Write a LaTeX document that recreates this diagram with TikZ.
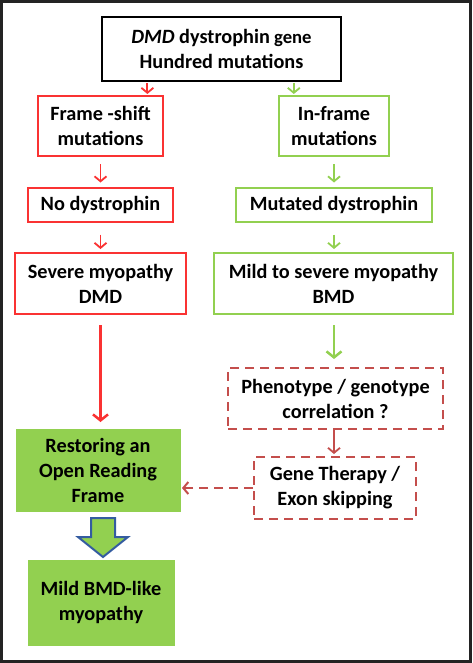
\documentclass[tikz,border=0pt]{standalone}
\usepackage{fontspec}
\setmainfont{Carlito}
\usetikzlibrary{calc, positioning, arrows.meta}
\def\px{0.75pt}
\definecolor{redline}{RGB}{250,50,50}
\definecolor{greenline}{RGB}{146,208,80}
\definecolor{dashred}{RGB}{196,78,76}
\definecolor{bluearrow}{RGB}{52,92,160}
\definecolor{frameline}{RGB}{35,35,35}
\tikzset{
box/.style 2 args={draw=#1, fill=#2, line width=2*\px, align=center, inner sep=0pt,
	font=\bfseries\fontsize{15.2}{18.75}\selectfont},
sized/.style 2 args={minimum width=#1*\px, minimum height=#2*\px},
dashbox/.style={box={dashred}{white}, dash pattern=on 9*\px off 6*\px},
thinarrow/.style={draw=#1, line width=1.8*\px, -{Straight Barb[length=5*\px, width=12*\px]}},
thickarrow/.style={draw=#1, line width=2.5*\px, -{Straight Barb[length=6*\px, width=15*\px]}},
}

\begin{document}
\begin{tikzpicture}[x=\px, y=-\px]
\useasboundingbox (0,0) rectangle (472,663);
\draw[frameline, line width=3*\px] (1.5,1.5) rectangle (470.5,661.5);

%Place the nodes
\node[box={black}{white}, sized={239}{64}] (gene) at (221.5,49)
	{\textit{DMD} dystrophin{\fontsize{14}{18}\selectfont\ gene}\\Hundred mutations};
\node[box={redline}{white}, sized={125}{60}] (shift) at (100.5,126) {Frame -shift\\mutations};
\node[box={greenline}{white}, sized={110}{60}] (inframe) at (334,126) {In-frame\\mutations};
\node[box={redline}{white}, sized={145}{34}] (nodys) at (100.5,204.5) {No dystrophin};
\node[box={greenline}{white}, sized={196}{34}] (mutdys) at (334,204.5) {Mutated dystrophin};
\node[box={redline}{white}, sized={171}{61}] (severe) at (100.5,283.5) {Severe myopathy\\DMD};
\node[box={greenline}{white}, sized={239}{61}] (mild) at (333.5,283.5) {Mild to severe myopathy\\BMD};
\node[dashbox, sized={215}{61}] (pheno) at (335.5,398.5) {Phenotype / genotype\\correlation ?};
\node[dashbox, sized={162}{62}] (therapy) at (335,488) {Gene Therapy /\\Exon skipping};
\node[box={greenline}{greenline}, line width=0pt, sized={164}{82}] (orf) at (98,470)
	{Restoring an\\Open Reading\\Frame};
\node[box={greenline}{greenline}, line width=0pt, sized={146}{85}] (bmdlike) at (101,602.5)
	{Mild BMD-like\\myopathy};

%Connect them
\coordinate (l0) at ($(gene.south)!0.615!(gene.south west)$);
\coordinate (r0) at ($(gene.south)!0.6!(gene.south east)$);
\draw[thinarrow=redline, shorten <=1*\px, shorten >=1*\px] (l0) -- (l0 |- shift.north);
\draw[thinarrow=greenline, shorten <=1*\px, shorten >=1*\px] (r0) -- (r0 |- inframe.north);
\draw[thinarrow=redline, shorten <=7*\px, shorten >=4*\px] (shift.south) -- (nodys.north);
\draw[thinarrow=greenline, shorten <=7*\px, shorten >=4*\px] (inframe.south) -- (mutdys.north);
\draw[thinarrow=redline, shorten <=12*\px, shorten >=3*\px] (nodys.south) -- (severe.north);
\draw[thinarrow=greenline, shorten <=12*\px, shorten >=3*\px] (mutdys.south) -- (mutdys.south |- mild.north);
\draw[thickarrow=redline, shorten <=10*\px, shorten >=7*\px] (severe.south) -- (severe.south |- orf.north);
\draw[thickarrow=greenline, shorten <=10*\px, shorten >=8*\px] (mutdys.south |- mild.south) -- (mutdys.south |- pheno.north);
\draw[thinarrow=dashred, shorten >=2*\px] (mutdys.south |- pheno.south) -- (mutdys.south |- therapy.north);
\draw[thinarrow=dashred, line width=2*\px, dash pattern=on 9*\px off 6*\px,
	shorten >=2*\px] (therapy.west) -- (therapy.west -| orf.east);

% block arrow between the two filled boxes
\coordinate (down) at ($(orf.south)+(5,7)$);
\draw[bluearrow, fill=greenline, line width=2*\px, line join=miter]
	(down) ++(-12,0) -- ++(24,0) -- ++(0,19) -- ++(13,0) -- ++(-25,20)
	-- ++(-25,-20) -- ++(13,0) -- cycle;
\end{tikzpicture}
\end{document}
